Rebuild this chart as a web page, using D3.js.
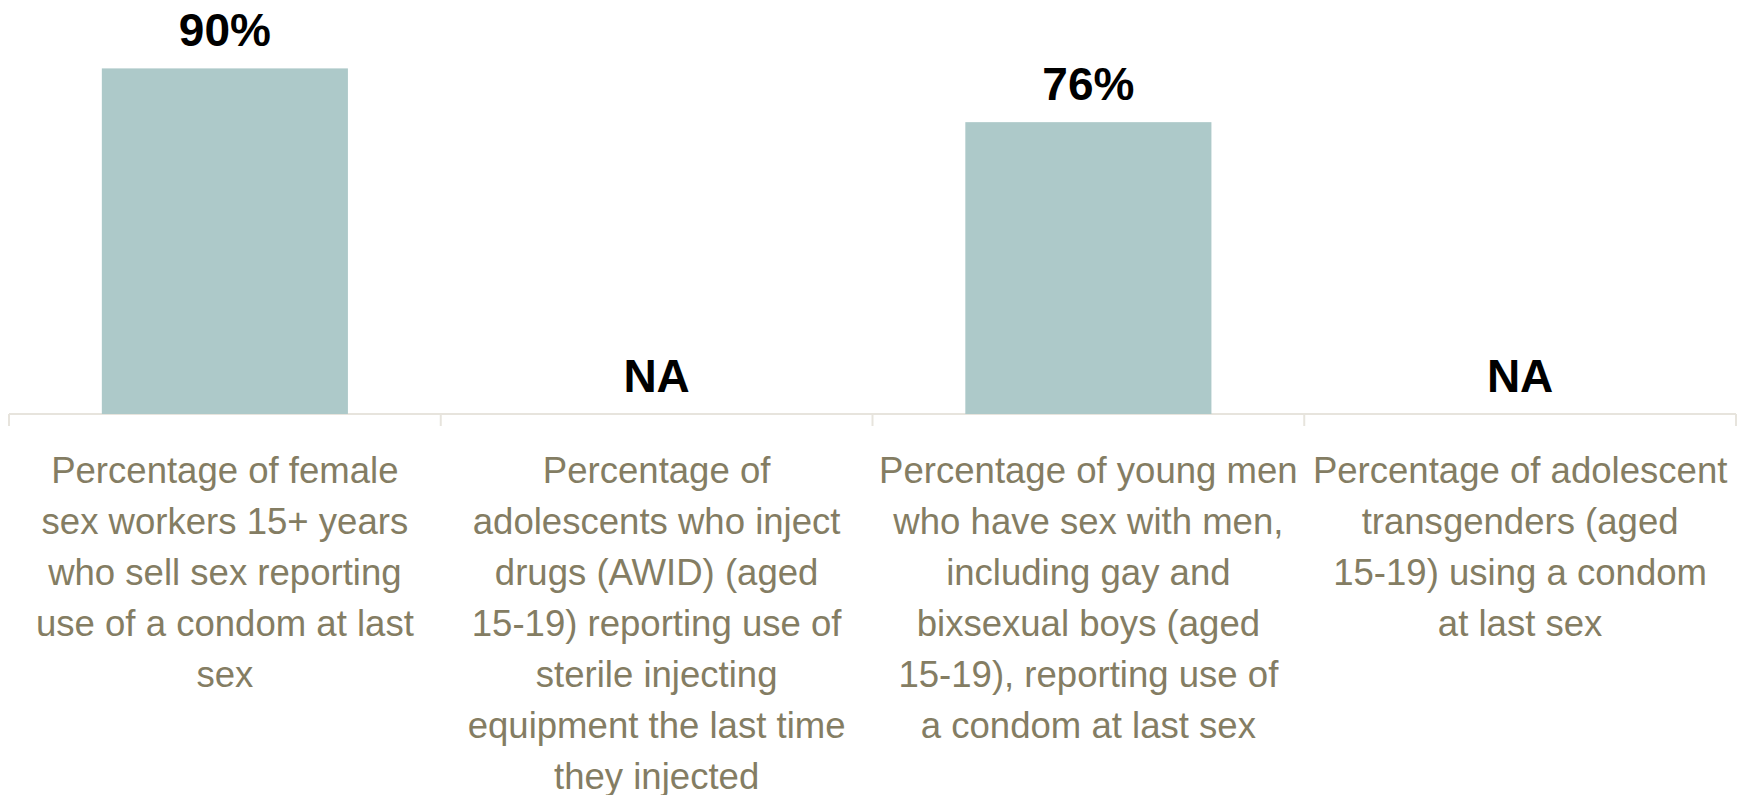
<!DOCTYPE html>
<html>
<head>
    <meta charset="utf-8">
    <title>Condom use at last sex</title>
    <script type="text/javascript" src="https://d3js.org/d3.v7.min.js"></script>
    <style>
        body { margin: 0; background: #fff; }
        svg { display: block; }
    </style>
</head>
<body>
    <svg width="1754" height="795"></svg>

    <script>
        // data
        var categories = ["fsw", "awid", "ymsm", "trans"];
        var values = [90, null, 76, null];
        var valueLabels = ["90%", "NA", "76%", "NA"];
        var categoryLines = [
            ["Percentage of female", "sex workers 15+ years", "who sell sex reporting", "use of a condom at last", "sex"],
            ["Percentage of", "adolescents who inject", "drugs (AWID) (aged", "15-19) reporting use of", "sterile injecting", "equipment the last time", "they injected"],
            ["Percentage of young men", "who have sex with men,", "including gay and", "bixsexual boys (aged", "15-19), reporting use of", "a condom at last sex"],
            ["Percentage of adolescent", "transgenders (aged", "15-19) using a condom", "at last sex"]
        ];

        var svg = d3.select("svg");
        var marge = { top: 30, left: 9, right: 18, baseline: 414 };
        var width = +svg.attr("width");

        var x = d3.scaleBand()
            .domain(categories)
            .range([marge.left, width - marge.right])
            .paddingInner(0.43)
            .paddingOuter(0.215);

        var y = d3.scaleLinear()
            .domain([0, 100])
            .range([marge.baseline, marge.top]);

        var axisColor = "#e7e4dd";
        var labelColor = "#847d63";
        var font = "'Liberation Sans Narrow', 'Arial Narrow', 'Liberation Sans', Arial, sans-serif";

        // axis line + ticks on the category boundaries
        var step = x.step();
        var bounds = categories.map(function (d) { return x(d) - step * 0.215; });
        bounds.push(x(categories[categories.length - 1]) + x.bandwidth() + step * 0.215);

        svg.append("line")
            .attr("x1", bounds[0]).attr("x2", bounds[bounds.length - 1])
            .attr("y1", y(0)).attr("y2", y(0))
            .attr("stroke", axisColor).attr("stroke-width", 2);

        svg.append("g").selectAll("line")
            .data(bounds)
            .enter().append("line")
            .attr("x1", function (d) { return d; })
            .attr("x2", function (d) { return d; })
            .attr("y1", y(0))
            .attr("y2", y(0) + 12)
            .attr("stroke", axisColor)
            .attr("stroke-width", 2);

        // bars
        svg.append("g").selectAll("rect")
            .data(categories.filter(function (d, i) { return values[i] != null; }))
            .enter().append("rect")
            .attr("x", function (d) { return x(d); })
            .attr("y", function (d) { return y(values[categories.indexOf(d)]); })
            .attr("width", x.bandwidth())
            .attr("height", function (d) { return y(0) - y(values[categories.indexOf(d)]); })
            .attr("fill", "#adc9c9");

        // value labels (NA sits on the baseline)
        svg.append("g").selectAll("text")
            .data(categories)
            .enter().append("text")
            .attr("x", function (d) { return x(d) + x.bandwidth() / 2; })
            .attr("y", function (d, i) { return y(values[i] || 0) - 22; })
            .attr("text-anchor", "middle")
            .attr("font-family", font)
            .attr("font-weight", "bold")
            .attr("font-size", 46)
            .attr("fill", "#000")
            .text(function (d, i) { return valueLabels[i]; });

        // category labels
        var lineHeight = 51;
        var catText = svg.append("g").selectAll("text")
            .data(categories)
            .enter().append("text")
            .attr("text-anchor", "middle")
            .attr("font-family", font)
            .attr("font-size", 40)
            .attr("fill", labelColor);

        catText.selectAll("tspan")
            .data(function (d, i) { return categoryLines[i].map(function (t) { return { cat: d, t: t }; }); })
            .enter().append("tspan")
            .attr("x", function (d) { return x(d.cat) + x.bandwidth() / 2; })
            .attr("y", function (d, j) { return 483 + j * lineHeight; })
            .text(function (d) { return d.t; });

        // fit font size so "use of a condom at last" is about 378px wide
        var probe = catText.filter(function (d, i) { return i === 0; }).selectAll("tspan").nodes()[3];
        var w = probe.getComputedTextLength();
        catText.attr("font-size", 40 * 378 / w);
    </script>
</body>
</html>
